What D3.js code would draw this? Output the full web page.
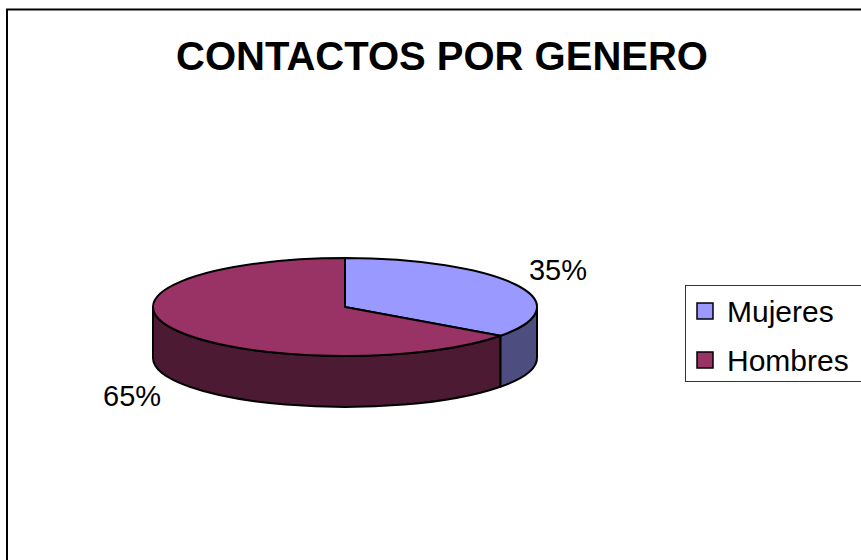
<!DOCTYPE html>
<html>
<head>
<meta charset="utf-8">
<script src="https://cdn.jsdelivr.net/npm/d3@7"></script>
<style>
  body { margin: 0; background: white; }
  svg { display: block; font-family: Arial, "Liberation Sans", sans-serif; }
</style>
</head>
<body>
<div id="chart"></div>
<script>
// Data
var categories = ["Mujeres", "Hombres"];
var values = [35, 65];
var labels = ["35%", "65%"];
var topColors = ["#9999FF", "#993366"];
var sideColors = ["#4D4D80", "#4D1A33"];
var title = "CONTACTOS POR GENERO";

var width = 861,
  height = 560;

// pie geometry
var cx = 345,
  cy = 307,
  rx = 192,
  ry = 49,
  depth = 51;

var svg = d3.select("#chart")
  .append("svg")
  .attr("width", width)
  .attr("height", height);

// chart border
svg.append("rect")
  .attr("x", 7)
  .attr("y", 9.5)
  .attr("width", 880)
  .attr("height", 580)
  .attr("fill", "white")
  .attr("stroke", "black")
  .attr("stroke-width", 2);

// title
svg.append("text")
  .attr("x", 442)
  .attr("y", 70)
  .attr("text-anchor", "middle")
  .style("font-size", "40px")
  .style("font-weight", "bold")
  .text(title);

var pie = d3.pie()
  .sort(null)
  .value(d => d)
  .startAngle(0)
  .endAngle(2 * Math.PI);

var arcs = pie(values);

// angle -> point on ellipse (clockwise from 12 o'clock)
var px = a => cx + rx * Math.sin(a);
var py = (a, dz) => cy - ry * Math.cos(a) + (dz || 0);

function topPath(d) {
  var large = (d.endAngle - d.startAngle) > Math.PI ? 1 : 0;
  return "M" + cx + "," + cy +
    "L" + px(d.startAngle) + "," + py(d.startAngle) +
    "A" + rx + "," + ry + " 0 " + large + " 1 " + px(d.endAngle) + "," + py(d.endAngle) +
    "Z";
}

function sidePath(d) {
  // only the front half of the rim is visible
  var a0 = Math.max(d.startAngle, Math.PI / 2),
    a1 = Math.min(d.endAngle, 3 * Math.PI / 2);
  if (a1 <= a0) return null;
  return "M" + px(a0) + "," + py(a0) +
    "A" + rx + "," + ry + " 0 0 1 " + px(a1) + "," + py(a1) +
    "L" + px(a1) + "," + py(a1, depth) +
    "A" + rx + "," + ry + " 0 0 0 " + px(a0) + "," + py(a0, depth) +
    "Z";
}

var pieG = svg.append("g")
  .attr("class", "pie");

// Render sides
pieG.selectAll(".side")
  .data(arcs)
  .enter()
  .append("path")
  .attr("class", "side")
  .attr("d", sidePath)
  .attr("fill", (d, i) => sideColors[i])
  .attr("stroke", "black")
  .attr("stroke-width", 2)
  .attr("stroke-linejoin", "round");

// Render tops
pieG.selectAll(".top")
  .data(arcs)
  .enter()
  .append("path")
  .attr("class", "top")
  .attr("d", topPath)
  .attr("fill", (d, i) => topColors[i])
  .attr("stroke", "black")
  .attr("stroke-width", 2)
  .attr("stroke-linejoin", "round");

// Data labels, outside the rim
var lrx = rx + 47,
  lry = ry + 34;

pieG.selectAll(".label")
  .data(arcs)
  .enter()
  .append("text")
  .attr("class", "label")
  .attr("x", d => cx + lrx * Math.sin((d.startAngle + d.endAngle) / 2))
  .attr("y", d => {
    var m = (d.startAngle + d.endAngle) / 2;
    return cy - lry * Math.cos(m) + (Math.cos(m) < 0 ? depth : 0);
  })
  .attr("dy", "0.36em")
  .attr("text-anchor", "middle")
  .style("font-size", "29px")
  .text((d, i) => labels[i]);

// Legend
var legendG = svg.append("g")
  .attr("class", "legend")
  .attr("transform", "translate(685,285)");

legendG.append("rect")
  .attr("x", 0.5)
  .attr("y", 0.5)
  .attr("width", 200)
  .attr("height", 96)
  .attr("fill", "white")
  .attr("stroke", "#333")
  .attr("stroke-width", 1);

var rows = legendG.selectAll(".row")
  .data(categories)
  .enter()
  .append("g")
  .attr("class", "row")
  .attr("transform", (d, i) => `translate(12,${18 + i * 49})`);

rows.append("rect")
  .attr("width", 16)
  .attr("height", 16)
  .attr("fill", (d, i) => topColors[i])
  .attr("stroke", "black")
  .attr("stroke-width", 1.5);

rows.append("text")
  .attr("x", 30)
  .attr("y", 8)
  .attr("dy", "0.36em")
  .style("font-size", "30px")
  .text(d => d);
</script>
</body>
</html>
